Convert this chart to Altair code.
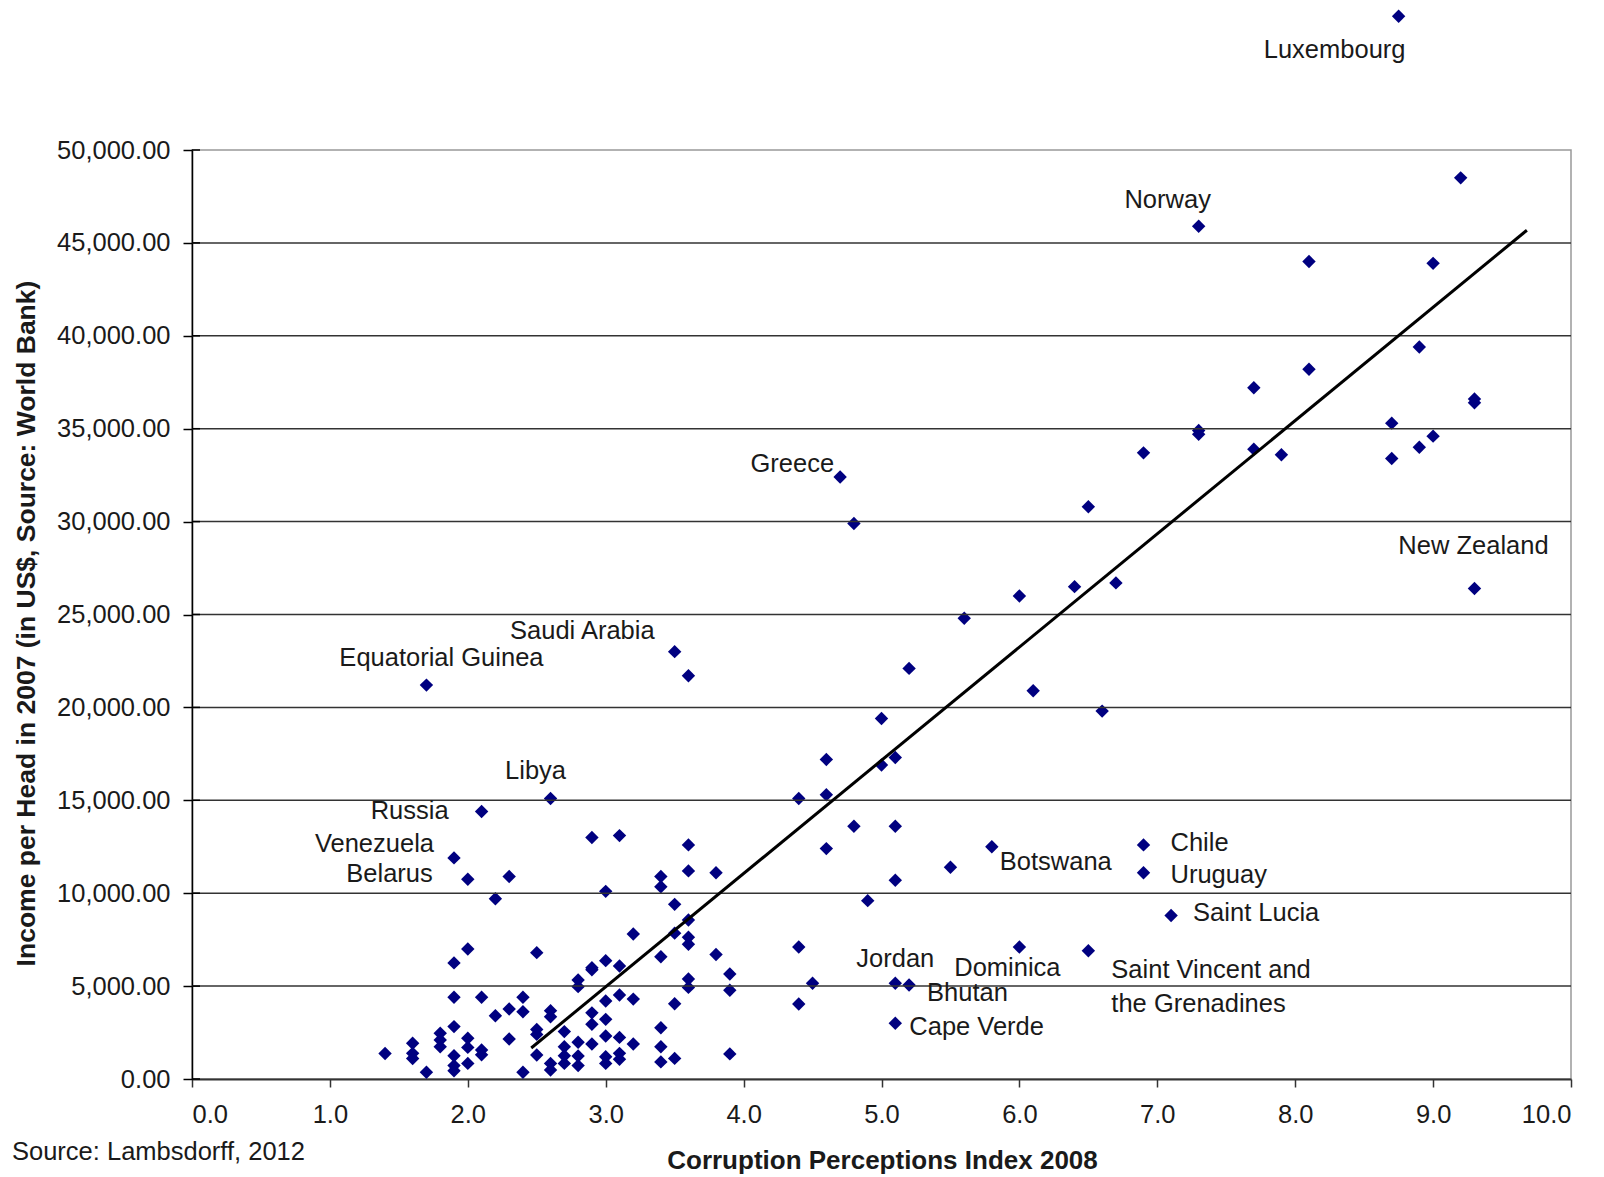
import altair as alt
import pandas as pd

# ---- data ----
cpi = [8.75, 9.2, 7.3, 8.1, 9.0, 8.9, 8.1, 7.7, 9.3, 9.3, 8.7, 7.3, 7.3, 9.0, 8.9, 7.7, 6.9, 7.9, 8.7,
       4.7, 6.5, 4.8, 6.7, 6.4, 9.3, 6.0, 5.6, 3.5, 5.2, 3.6, 1.7, 6.1, 6.6, 5.0, 5.1, 4.6, 5.0, 4.6,
       4.4, 2.6, 2.1, 4.8, 5.1, 3.1, 2.9, 3.6, 6.9, 5.8, 4.6, 1.9, 5.5, 3.6, 3.8, 6.9, 3.4, 2.3, 2.0,
       5.1, 3.4, 3.0, 2.2, 4.9, 3.5, 7.1, 3.6, 3.5, 3.2, 3.6, 3.6, 4.4, 6.0, 2.0, 6.5, 2.5, 3.8, 3.4,
       3.0, 1.9, 3.1, 2.9, 2.9, 3.9, 3.6, 2.8, 4.5, 5.1, 5.2, 2.8, 3.6, 3.9, 3.1, 1.9, 2.1, 2.4, 3.2,
       3.0, 3.5, 4.4, 2.3, 2.6, 2.4, 2.9, 2.2, 2.6, 3.0, 5.1, 2.9, 1.9, 3.4, 2.5, 2.7, 1.8, 2.5, 3.0,
       3.1, 2.0, 2.3, 1.8, 2.8, 1.6, 2.9, 3.2, 1.8, 2.0, 2.7, 3.4, 2.1, 2.1, 1.4, 1.6, 3.1, 3.9, 2.5,
       2.7, 1.9, 2.8, 3.0, 1.6, 3.5, 3.1, 3.4, 2.6, 2.7, 3.0, 2.0, 1.9, 2.8, 2.6, 1.9, 1.7, 2.4]
income = [57200, 48500, 45900, 44000, 43900, 39400, 38200, 37200, 36600, 36400, 35300, 34900, 34700,
          34600, 34000, 33900, 33700, 33600, 33400, 32400, 30800, 29900, 26700, 26500, 26400, 26000,
          24800, 23000, 22100, 21700, 21200, 20900, 19800, 19400, 17300, 17200, 16900, 15300, 15100,
          15100, 14400, 13600, 13600, 13100, 13000, 12600, 12600, 12500, 12400, 11900, 11400, 11200,
          11100, 11100, 10900, 10900, 10750, 10700, 10350, 10100, 9700, 9600, 9400, 8800, 8560, 7850,
          7800, 7630, 7250, 7100, 7100, 7000, 6900, 6800, 6700, 6580, 6370, 6250, 6080, 5990, 5880,
          5650, 5380, 5330, 5150, 5150, 5060, 4970, 4930, 4780, 4520, 4400, 4400, 4400, 4300, 4200,
          4050, 4040, 3770, 3680, 3620, 3560, 3400, 3350, 3210, 3000, 2950, 2820, 2760, 2670, 2550,
          2460, 2400, 2310, 2240, 2190, 2150, 2100, 1980, 1920, 1880, 1880, 1740, 1700, 1740, 1740,
          1560, 1300, 1370, 1380, 1380, 1350, 1290, 1250, 1250, 1240, 1200, 1100, 1110, 1060, 920,
          840, 840, 840, 840, 720, 720, 480, 440, 360, 360]

trend_cpi = [2.46, 9.68]
trend_income = [1670, 45680]

x_ticks = [0, 1, 2, 3, 4, 5, 6, 7, 8, 9, 10]
y_ticks = [0, 5000, 10000, 15000, 20000, 25000, 30000, 35000, 40000, 45000, 50000]
grid_lines = [5000, 10000, 15000, 20000, 25000, 30000, 35000, 40000, 45000]

source_note = "Source: Lambsdorff, 2012"

FONT = "Liberation Sans"
TXT = "#1a1a1a"
FS = 25.5

df = pd.DataFrame({"cpi": cpi, "income": income})
x_scale = alt.Scale(domain=[0, 10], nice=False)
y_scale = alt.Scale(domain=[0, 50000], nice=False)

x_axis = alt.Axis(
    values=x_ticks, format=".1f", title="Corruption Perceptions Index 2008",
    grid=False, tickSize=8, tickColor="#333333", tickWidth=1.5,
    domainColor="#333333", domainWidth=2,
    labelFont=FONT, labelFontSize=FS, labelColor=TXT, labelPadding=15,
    titleFont=FONT, titleFontSize=26, titleFontWeight="bold", titleColor=TXT,
    titleX=690, titleY=81, titleAlign="center", titleBaseline="middle")
y_axis = alt.Axis(
    values=y_ticks, format=",.2f",
    title="Income per Head in 2007 (in US$, Source: World Bank)",
    grid=False, tickSize=9, tickColor="#000000", tickWidth=1.5,
    domainColor="#000000", domainWidth=1.5,
    labelFont=FONT, labelFontSize=FS, labelColor=TXT, labelPadding=13,
    titleFont=FONT, titleFontSize=26.5, titleFontWeight="bold", titleColor=TXT,
    titleX=-166, titleY=473, titleAngle=-90, titleAlign="center", titleBaseline="middle")


def X():
    return alt.X("cpi:Q", scale=x_scale, axis=x_axis)


def Y():
    return alt.Y("income:Q", scale=y_scale, axis=y_axis)


points = alt.Chart(df).mark_point(
    shape="diamond", filled=True, size=180, color="#000080", opacity=1
).encode(x=X(), y=Y())

grid = alt.Chart(pd.DataFrame({"income": grid_lines})).mark_rule(
    color="#333333", strokeWidth=1.5
).encode(y=Y())

cross_ticks = alt.Chart(pd.DataFrame({"income": y_ticks})).mark_rule(
    color="#000000", strokeWidth=1.5
).encode(y=Y(), x=alt.value(0), x2=alt.value(8))

trend = alt.Chart(pd.DataFrame({"cpi": trend_cpi, "income": trend_income})).mark_line(
    color="#000000", strokeWidth=3
).encode(x=X(), y=Y())


def label(name, c, v, align, dx, dy):
    return alt.Chart(pd.DataFrame({"cpi": [c], "income": [v], "name": [name]})).mark_text(
        align=align, baseline="middle", dx=dx, dy=dy, font=FONT, fontSize=FS, color=TXT
    ).encode(x=X(), y=Y(), text="name:N")


labels = [
    label("Luxembourg", 8.75, 57200, "center", -64, 34),
    label("Norway", 7.3, 45900, "center", -31, -26),
    label("Greece", 4.7, 32400, "right", -6, -13),
    label("New Zealand", 9.3, 26400, "center", -1, -42),
    label("Saudi Arabia", 3.5, 23000, "right", -20, -21),
    label("Equatorial Guinea", 1.7, 21200, "center", 15, -27),
    label("Libya", 2.6, 15100, "center", -15, -27),
    label("Russia", 2.1, 14400, "right", -33, 0),
    label("Venezuela", 1.9, 11900, "right", -20, -14),
    label("Belarus", 2.0, 10750, "right", -35, -5),
    label("Botswana", 5.8, 12500, "left", 8, 15),
    label("Chile", 6.9, 12600, "left", 27, -2),
    label("Uruguay", 6.9, 11100, "left", 27, 2),
    label("Saint Lucia", 7.1, 8800, "left", 22, -2),
    label("Jordan", 5.1, 5150, "center", 0, -24),
    label("Dominica", 6.0, 7100, "center", -12, 21),
    label("Bhutan", 5.2, 5060, "left", 18, 8),
    label("Cape Verde", 5.1, 3000, "left", 14, 4),
    label("Saint Vincent and", 6.5, 6900, "left", 23, 19),
    label("the Grenadines", 6.5, 6900, "left", 23, 53),
]

source = alt.Chart(pd.DataFrame({"t": [source_note]})).mark_text(
    align="left", baseline="alphabetic", font=FONT, fontSize=FS, color=TXT
).encode(text="t:N", x=alt.value(-180), y=alt.value(1010))

chart = alt.layer(points, grid, cross_ticks, trend, *labels, source).properties(
    width=1379, height=929,
    autosize=alt.AutoSizeParams(type="none"),
    padding={"left": 184, "top": 142, "right": 25, "bottom": 100},
).configure_view(stroke="#999999", strokeWidth=1.5)

chart.save("out.html", embed_options={"renderer": "svg", "actions": False})
